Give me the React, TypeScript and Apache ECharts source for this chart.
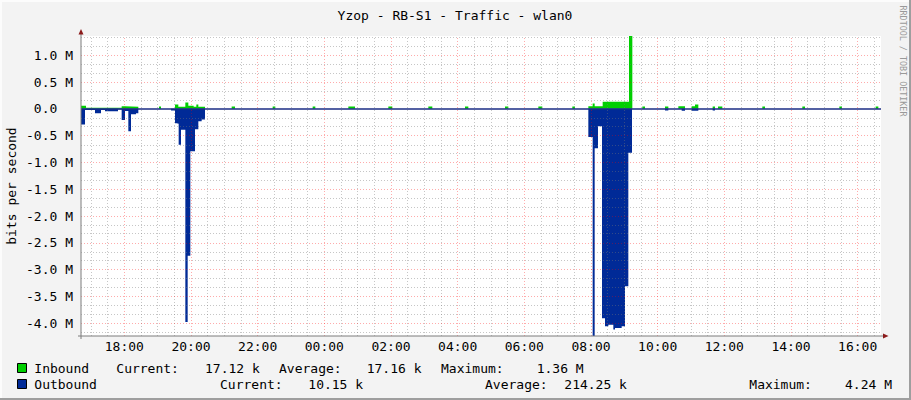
import React, { useEffect, useRef } from "react";
import * as echarts from "echarts";

const TITLE = "Yzop - RB-S1 - Traffic - wlan0";
const Y_AXIS_TITLE = "bits per second";
const WATERMARK = "RRDTOOL / TOBI OETIKER";

// time axis in hours since midnight of the first day (24 = 00:00 of the next day)
const X_MIN = 16.7;
const X_MAX = 40.7;
// value axis in Mbit/s
const Y_MIN = -4.24;
const Y_MAX = 1.36;

const xLabelHours = [18, 20, 22, 24, 26, 28, 30, 32, 34, 36, 38, 40];
const yLabelValues = [1, 0.5, 0, -0.5, -1, -1.5, -2, -2.5, -3, -3.5, -4];

// step change points: [hour, Mbit/s], each value holds until the next point
const inbound: [number, number][] = [
  [16.7, 0.06], [16.85, 0.02], [17.92, 0.05], [18.02, 0.04], [18.42, 0],
  [19.04, 0.045], [19.1, 0],
  [19.52, 0.08], [19.62, 0.04], [19.83, 0.12], [19.92, 0.06], [20.08, 0.04],
  [20.16, 0.08], [20.22, 0.04], [20.42, 0],
  [21.22, 0.045], [21.32, 0],
  [22.45, 0.045], [22.53, 0],
  [23.65, 0.045], [23.73, 0],
  [24.72, 0.045], [24.92, 0],
  [25.92, 0.045], [26.04, 0],
  [27.12, 0.045], [27.24, 0],
  [28.22, 0.045], [28.32, 0],
  [29.42, 0.045], [29.52, 0],
  [30.42, 0.045], [30.54, 0],
  [31.44, 0.045], [31.52, 0],
  [31.92, 0.05], [32.05, 0.1], [32.11, 0.05], [32.35, 0.135], [33.14, 1.36], [33.24, 0],
  [33.54, 0.045], [33.62, 0],
  [34.22, 0.045], [34.32, 0],
  [34.62, 0.05], [34.82, 0],
  [35.02, 0.05], [35.12, 0.08], [35.22, 0],
  [35.65, 0.045], [35.72, 0],
  [35.81, 0.045], [35.94, 0],
  [37.14, 0.045], [37.22, 0],
  [38.34, 0.045], [38.42, 0],
  [39.45, 0.045], [39.53, 0],
  [40.54, 0.045], [40.62, 0], [40.7, 0],
];

const outbound: [number, number][] = [
  [16.7, -0.29], [16.82, -0.02], [17.12, -0.08], [17.3, -0.02], [17.42, -0.045],
  [17.81, -0.01], [17.92, -0.21], [18.02, -0.04], [18.12, -0.42], [18.2, -0.1],
  [18.35, -0.08], [18.42, 0],
  [19.4, -0.03], [19.52, -0.27], [19.57, -0.28], [19.63, -0.67], [19.7, -0.39],
  [19.83, -3.98], [19.9, -2.74], [19.98, -0.79], [20.12, -0.38], [20.22, -0.23],
  [20.32, -0.2], [20.42, 0],
  [31.92, -0.525], [32.05, -4.24], [32.11, -0.735], [32.21, -0.325], [32.33, -3.91],
  [32.42, -4.06], [32.52, -4.03], [32.67, -4.12], [32.72, -4.09], [32.92, -4.06],
  [33.02, -3.31], [33.12, -0.82], [33.23, 0],
  [34.22, -0.03], [34.32, 0],
  [34.72, -0.035], [34.82, 0],
  [35.02, -0.035], [35.22, 0],
  [35.65, -0.03], [35.72, 0],
  [40.7, 0],
];

const legendLabels = ["Inbound", "Outbound"];
const statNames = ["Current:", "Average:", "Maximum:"];
const inboundStats = ["17.12 k", "17.16 k", "1.36 M"];
const outboundStats = ["10.15 k", "214.25 k", "4.24 M"];

const COLOR_IN = "#00CF00";
const COLOR_OUT = "#002A97";
const FONT = '"DejaVu Sans Mono", "Liberation Mono", monospace';

export default function App() {
  const ref = useRef<HTMLDivElement>(null);

  useEffect(() => {
    document.body.style.margin = "0";
    if (!ref.current) return;
    const chart = echarts.init(ref.current, null, { renderer: "svg" });

    const minorLine = { color: "rgba(120,120,120,0.42)", width: 1, type: [1, 2] };
    const majorLine = { color: "rgba(255,0,0,0.33)", width: 1, type: [1, 2] };

    const gridMarks: any[] = [];
    for (let h = 17; h <= X_MAX; h += 0.5) {
      const major = xLabelHours.indexOf(h) >= 0;
      gridMarks.push({ xAxis: h, lineStyle: major ? majorLine : minorLine });
    }
    for (let k = -25; k <= 8; k++) {
      const v = k / 6;
      if (v < Y_MIN || v > Y_MAX) continue;
      const major = k % 3 === 0;
      if (k === 0) continue;
      gridMarks.push({ yAxis: v, lineStyle: major ? majorLine : minorLine });
    }
    gridMarks.push({ yAxis: 0, lineStyle: { color: "#1b2d85", width: 1.6, type: "solid" } });

    const text = (t: string, x: number, y: number, extra: any = {}) => ({
      type: "text",
      x,
      y,
      silent: true,
      style: {
        text: t,
        font: `13px ${FONT}`,
        fill: "#000",
        align: "left",
        verticalAlign: "middle",
        ...extra,
      },
    });

    const row1X = [116.3, 279, 441];
    const row1V = [205, 366.7, 536.7];
    const row2X = [220, 485, 749.3];
    const row2V = [308.3, 564.3, 845];

    const graphics: any[] = [
      // 3D frame
      { type: "line", shape: { x1: 0, y1: 1, x2: 911, y2: 1 }, style: { stroke: "#fcfcfc", lineWidth: 2 } },
      { type: "line", shape: { x1: 1, y1: 0, x2: 1, y2: 400 }, style: { stroke: "#fcfcfc", lineWidth: 2 } },
      { type: "line", shape: { x1: 910, y1: 0, x2: 910, y2: 400 }, style: { stroke: "#9e9e9e", lineWidth: 2 } },
      { type: "line", shape: { x1: 0, y1: 399, x2: 911, y2: 399 }, style: { stroke: "#9e9e9e", lineWidth: 2 } },
      // axes
      { type: "line", z: 10, shape: { x1: 81, y1: 32, x2: 81, y2: 339 }, style: { stroke: "#7d7d7d", lineWidth: 1 } },
      { type: "line", z: 10, shape: { x1: 78, y1: 336, x2: 885, y2: 336 }, style: { stroke: "#7d7d7d", lineWidth: 1 } },
      { type: "polygon", z: 10, shape: { points: [[78.5, 34.5], [83.5, 34.5], [81, 29]] }, style: { fill: "#8b1a1a" } },
      { type: "polygon", z: 10, shape: { points: [[883, 333.5], [883, 338.5], [888.5, 336]] }, style: { fill: "#8b1a1a" } },
      // titles
      text(TITLE, 455, 15, { align: "center" }),
      {
        ...text(Y_AXIS_TITLE, 0, 0, { align: "center" }),
        x: 11,
        y: 186,
        rotation: Math.PI / 2,
      },
      {
        ...text(WATERMARK, 0, 0, { align: "center", font: `8.4px ${FONT}`, fill: "#999999" }),
        x: 903,
        y: 61,
        rotation: -Math.PI / 2,
      },
      // legend
      { type: "rect", shape: { x: 17.5, y: 363.5, width: 9, height: 9 }, style: { fill: COLOR_IN, stroke: "#000", lineWidth: 1 } },
      { type: "rect", shape: { x: 17.5, y: 379.5, width: 9, height: 9 }, style: { fill: COLOR_OUT, stroke: "#000", lineWidth: 1 } },
      text(legendLabels[0], 34.3, 368.3),
      text(legendLabels[1], 34.3, 384.3),
    ];
    statNames.forEach((n, i) => {
      graphics.push(text(n, row1X[i], 368.3));
      graphics.push(text(inboundStats[i], row1V[i], 368.3));
      graphics.push(text(n, row2X[i], 384.3));
      graphics.push(text(outboundStats[i], row2V[i], 384.3));
    });

    const pad = (n: number) => (n < 10 ? "0" + n : "" + n);

    chart.setOption({
      animation: false,
      backgroundColor: "#F3F3F3",
      grid: {
        left: 81,
        top: 36,
        width: 800,
        height: 300,
        show: true,
        backgroundColor: "#ffffff",
        borderWidth: 0,
      },
      xAxis: {
        type: "value",
        min: X_MIN,
        max: X_MAX,
        axisLine: { show: false },
        axisTick: { show: false },
        splitLine: { show: false },
        axisLabel: {
          customValues: xLabelHours,
          formatter: (v: number) => pad(Math.round(v) % 24) + ":00",
          fontFamily: FONT,
          fontSize: 13,
          color: "#000",
          margin: 4,
        },
      },
      yAxis: {
        type: "value",
        min: Y_MIN,
        max: Y_MAX,
        axisLine: { show: false },
        axisTick: { show: false },
        splitLine: { show: false },
        axisLabel: {
          customValues: yLabelValues,
          formatter: (v: number) => (Math.abs(v) < 1e-9 ? "{z|0.0}" : v.toFixed(1) + " M"),
          fontFamily: FONT,
          fontSize: 13,
          color: "#000",
          margin: 8,
          rich: {
            z: { fontFamily: FONT, fontSize: 13, color: "#000", padding: [0, 15.7, 0, 0] },
          },
        },
      },
      series: [
        {
          type: "line",
          name: "Inbound",
          data: inbound,
          step: "end",
          symbol: "none",
          showSymbol: false,
          lineStyle: { width: 0, opacity: 0 },
          areaStyle: { color: COLOR_IN, opacity: 1 },
          z: 2,
          silent: true,
        },
        {
          type: "line",
          name: "Outbound",
          data: outbound,
          step: "end",
          symbol: "none",
          showSymbol: false,
          lineStyle: { width: 0, opacity: 0 },
          areaStyle: { color: COLOR_OUT, opacity: 1 },
          z: 3,
          silent: true,
        },
        {
          type: "line",
          name: "grid",
          data: [[X_MIN, 0]],
          symbol: "none",
          showSymbol: false,
          lineStyle: { opacity: 0 },
          silent: true,
          markLine: {
            silent: true,
            symbol: "none",
            label: { show: false },
            emphasis: { disabled: true },
            animation: false,
            data: gridMarks,
          },
        },
      ],
      graphic: graphics,
    });

    return () => chart.dispose();
  }, []);

  return <div ref={ref} style={{ width: 911, height: 400 }} />;
}
